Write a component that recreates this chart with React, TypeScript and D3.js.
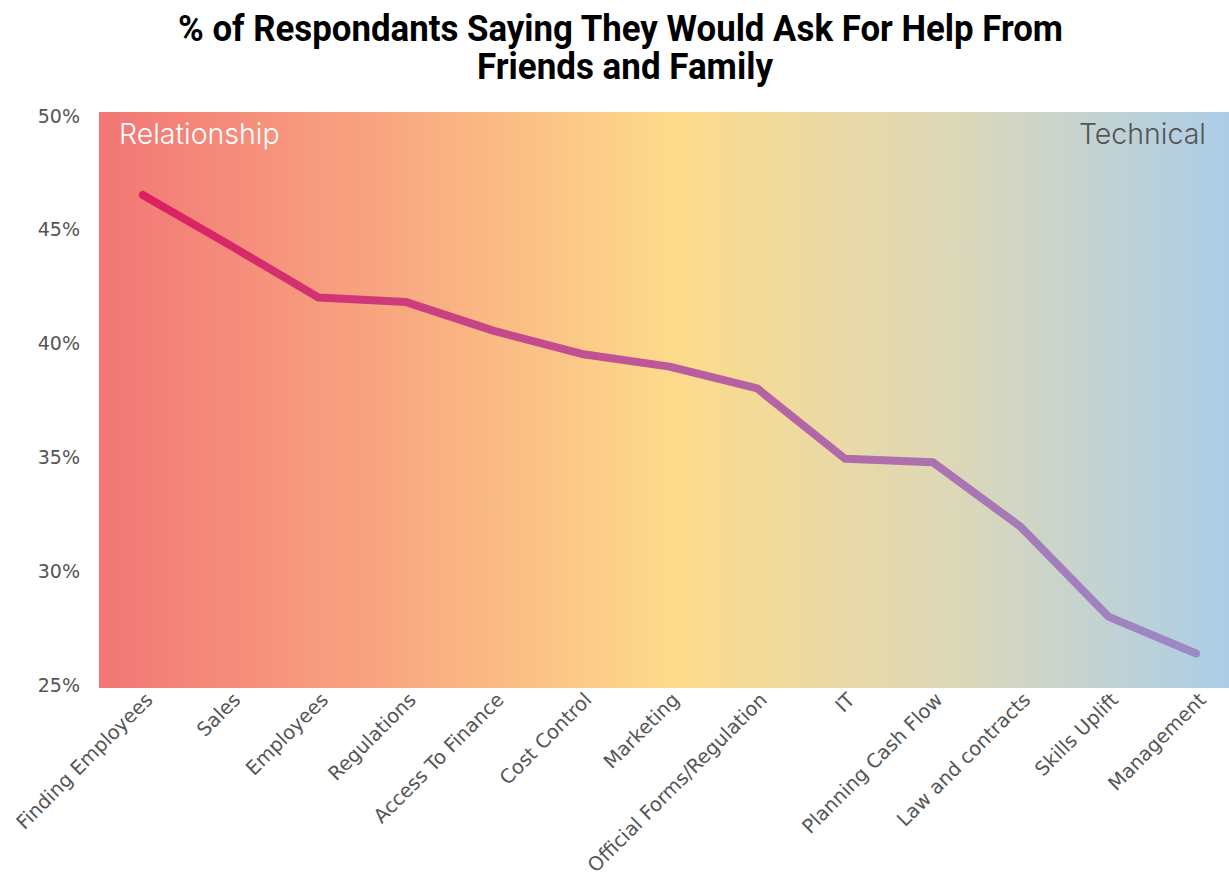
import React from "react";
import * as d3 from "d3";

const categories = [
  "Finding Employees", "Sales", "Employees", "Regulations", "Access To Finance",
  "Cost Control", "Marketing", "Official Forms/Regulation", "IT", "Planning Cash Flow",
  "Law and contracts", "Skills Uplift", "Management",
];
const values = [46.4, 44.2, 41.95, 41.75, 40.5, 39.5, 38.95, 38.0, 34.95, 34.8, 32.0, 28.1, 26.5];
const yTicks = [25, 30, 35, 40, 45, 50];
const titleLines = ["% of Respondants Saying They Would Ask For Help From", "Friends and Family"];
const titleWidths = [885, 296];
const titleCenters = [620.5, 625];
const bgStops = [
  { o: 0, c: "#f27676" },
  { o: 0.25, c: "#f9a680" },
  { o: 0.505, c: "#fddb8b" },
  { o: 0.75, c: "#dcd8b8" },
  { o: 1, c: "#a9cdea" },
];
const lineStops = [
  { o: 0, c: "#dd1f5f" },
  { o: 0.5, c: "#bb5a9c" },
  { o: 1, c: "#9b8ac6" },
];

const W = 1229, H = 875;
const left = 99, right = 1240, top = 112, bottom = 688;

export default function App() {
  const x = d3.scaleBand<string>().domain(categories).range([left, right]);
  const y = d3.scaleLinear().domain([25, 50]).range([bottom, top]);
  const yLabel = d3.scaleLinear().domain([25, 50]).range([bottom - 3, top + 4]);
  const cx = (c: string) => (x(c) as number) + x.bandwidth() / 2;
  const line = d3.line<number>().x((_, i) => cx(categories[i])).y((d) => y(d));
  const x0 = cx(categories[0]);
  const x1 = cx(categories[categories.length - 1]);
  return (
    <svg width={W} height={H} style={{ position: "absolute", left: 0, top: 0 }}>
      <defs>
        <linearGradient id="bg" gradientUnits="userSpaceOnUse" x1={left} x2={right} y1={0} y2={0}>
          {bgStops.map((s, i) => <stop key={i} offset={s.o} stopColor={s.c} />)}
        </linearGradient>
        <linearGradient id="ln" gradientUnits="userSpaceOnUse" x1={x0} x2={x1} y1={0} y2={0}>
          {lineStops.map((s, i) => <stop key={i} offset={s.o} stopColor={s.c} />)}
        </linearGradient>
      </defs>
      <rect x={left} y={top} width={right - left} height={bottom - top} fill="url(#bg)" />
      {titleLines.map((t, i) => (
        <text key={i} x={titleCenters[i]} y={41 + i * 38} textAnchor="middle" fontFamily="Roboto" fontWeight={700}
          fontSize={36} fill="#000" textLength={titleWidths[i]} lengthAdjust="spacingAndGlyphs">
          {t}
        </text>
      ))}
      {yTicks.map((t) => (
        <text key={t} x={80} y={yLabel(t)} dy="0.35em" textAnchor="end" fontFamily="DejaVu Sans, Noto Sans" fontSize={19} fill="#555">
          {t}%
        </text>
      ))}
      <text x={119} y={144} fontFamily="Inter" fontWeight={300} fontSize={28.5} fill="#fff">Relationship</text>
      <text x={1206} y={144} textAnchor="end" fontFamily="Inter" fontWeight={300} fontSize={28.5} fill="#555">Technical</text>
      <path d={line(values) || ""} fill="none" stroke="url(#ln)" strokeWidth={8} strokeLinecap="round" strokeLinejoin="round" />
      {categories.map((c) => (
        <text key={c} transform={`translate(${cx(c) + 11},${701}) rotate(-45)`} textAnchor="end"
          fontFamily="DejaVu Sans, Noto Sans" fontSize={19.5} fill="#555">
          {c}
        </text>
      ))}
    </svg>
  );
}
